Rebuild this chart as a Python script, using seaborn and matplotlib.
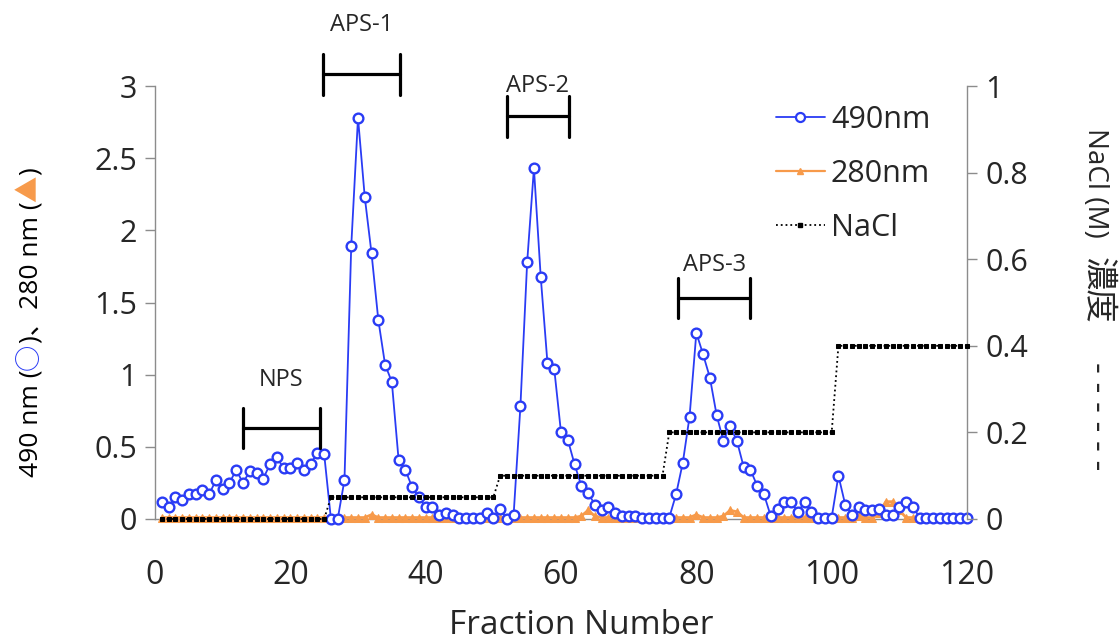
import numpy as np
import pandas as pd
import matplotlib
matplotlib.use("Agg")
import matplotlib.pyplot as plt
import seaborn as sns
from matplotlib.lines import Line2D
from matplotlib.ticker import FuncFormatter

# ---------------- data ----------------
fractions = list(range(1, 121))

abs490 = [0.12, 0.085, 0.15, 0.13, 0.17, 0.17, 0.20, 0.17, 0.27, 0.21,
          0.25, 0.34, 0.25, 0.33, 0.32, 0.28, 0.38, 0.43, 0.35, 0.35,
          0.39, 0.34, 0.38, 0.46, 0.45, 0.0, 0.0, 0.27, 1.89, 2.78,
          2.23, 1.84, 1.38, 1.07, 0.95, 0.41, 0.34, 0.22, 0.15, 0.08,
          0.08, 0.03, 0.04, 0.03, 0.01, 0.01, 0.01, 0.01, 0.04, 0.01,
          0.07, 0.0, 0.03, 0.78, 1.78, 2.43, 1.68, 1.08, 1.04, 0.60,
          0.55, 0.38, 0.23, 0.18, 0.10, 0.06, 0.08, 0.04, 0.02, 0.02,
          0.02, 0.01, 0.01, 0.01, 0.01, 0.01, 0.17, 0.39, 0.71, 1.29,
          1.14, 0.98, 0.72, 0.54, 0.645, 0.54, 0.36, 0.34, 0.23, 0.17,
          0.02, 0.07, 0.115, 0.115, 0.05, 0.115, 0.05, 0.01, 0.01, 0.01,
          0.30, 0.10, 0.03, 0.08, 0.06, 0.06, 0.07, 0.03, 0.03, 0.08,
          0.115, 0.085, 0.01, 0.01, 0.01, 0.01, 0.01, 0.01, 0.01, 0.01]

abs280 = [0.01, 0.01, 0.01, 0.01, 0.01, 0.01, 0.01, 0.01, 0.01, 0.01,
          0.01, 0.01, 0.01, 0.01, 0.01, 0.01, 0.01, 0.01, 0.01, 0.01,
          0.01, 0.01, 0.01, 0.01, 0.01, 0.01, 0.01, 0.01, 0.01, 0.01,
          0.01, 0.03, 0.01, 0.01, 0.01, 0.01, 0.01, 0.01, 0.01, 0.01,
          0.01, 0.01, 0.01, 0.01, 0.01, 0.01, 0.01, 0.01, 0.01, 0.01,
          0.01, 0.01, 0.01, 0.01, 0.01, 0.01, 0.01, 0.01, 0.01, 0.01,
          0.01, 0.01, 0.02, 0.06, 0.02, 0.01, 0.01, 0.01, 0.01, 0.01,
          0.01, 0.01, 0.01, 0.01, 0.01, 0.01, 0.01, 0.01, 0.01, 0.03,
          0.01, 0.01, 0.01, 0.02, 0.06, 0.05, 0.01, 0.01, 0.01, 0.01,
          0.01, 0.01, 0.01, 0.01, 0.01, 0.01, 0.01, 0.01, 0.01, 0.01,
          0.01, 0.01, 0.01, 0.02, 0.01, 0.01, 0.04, 0.12, 0.12, 0.06,
          0.01, 0.01, 0.01, 0.01, 0.01, 0.01, 0.01, 0.01, 0.01, 0.01]

nacl = [0.0] * 25 + [0.05] * 25 + [0.1] * 25 + [0.2] * 25 + [0.4] * 20

# bracket annotations: label, start fraction, end fraction, level, label level
bracket_labels = ["NPS", "APS-1", "APS-2", "APS-3"]
bracket_start = [13.0, 24.8, 52.0, 77.3]
bracket_end = [24.4, 36.2, 61.2, 88.0]
bracket_level = [0.63, 3.08, 2.79, 1.53]
bracket_text_level = [0.96, 3.42, 3.00, 1.76]

left_ticks = [0, 0.5, 1, 1.5, 2, 2.5, 3]
right_ticks = [0, 0.2, 0.4, 0.6, 0.8, 1.0]
x_ticks = [0, 20, 40, 60, 80, 100, 120]

df = pd.DataFrame({"fraction": fractions, "a490": abs490,
                   "a280": abs280, "nacl": nacl})

# ---------------- style ----------------
sns.set_style("white")
plt.rcParams["font.family"] = ["Open Sans", "Noto Sans CJK JP", "DejaVu Sans"]

BLUE = "#2a3cf5"
ORANGE = "#f79a4a"
GRAY = "#8c8c8c"

fig = plt.figure(figsize=(11.2, 6.44), dpi=100)
ax = fig.add_axes([155 / 1120, 1 - 519 / 644, (967 - 155) / 1120, (519 - 86) / 644])
ax2 = ax.twinx()

sns.lineplot(data=df, x="fraction", y="a280", ax=ax, color=ORANGE,
             linewidth=2.0, marker="^", markersize=5.5,
             markeredgecolor=ORANGE, markerfacecolor=ORANGE,
             clip_on=False, zorder=3, label="280nm", legend=False)
sns.lineplot(data=df, x="fraction", y="a490", ax=ax, color=BLUE,
             linewidth=1.3, marker="o", markersize=7,
             markeredgecolor=BLUE, markerfacecolor="white",
             markeredgewidth=1.7, clip_on=False, zorder=4,
             label="490nm", legend=False)
sns.lineplot(data=df, x="fraction", y="nacl", ax=ax2, color="black",
             linewidth=1.3, linestyle=":", marker="s", markersize=2.2,
             markeredgecolor="black", markerfacecolor="black",
             clip_on=False, zorder=3, label="NaCl", legend=False)

ax.set_xlim(0, 120)
ax.set_ylim(0, 3)
ax2.set_ylim(0, 1)
ax.set_xticks(x_ticks)
ax.set_yticks(left_ticks)
ax2.set_yticks(right_ticks)
fmt = FuncFormatter(lambda v, p: f"{v:g}")
ax.yaxis.set_major_formatter(fmt)
ax2.yaxis.set_major_formatter(fmt)
ax.set_xlabel("")
ax.set_ylabel("")
ax2.set_ylabel("")

for a in (ax, ax2):
    a.spines["top"].set_visible(False)
    for s in ("left", "right", "bottom"):
        a.spines[s].set_color(GRAY)
        a.spines[s].set_linewidth(1.0)
    a.tick_params(axis="both", which="major", direction="out", length=7,
                  width=1, color=GRAY, labelsize=22, pad=6)
ax.tick_params(axis="x", labelsize=23, pad=22)
ax.spines["right"].set_visible(False)
ax2.spines["left"].set_visible(False)
ax2.spines["bottom"].set_visible(False)

fig.text(581 / 1120, 1 - 625 / 644, "Fraction Number", ha="center",
         va="center", fontsize=24)

# brackets
for lab, x0, x1, lev, tl in zip(bracket_labels, bracket_start, bracket_end,
                                bracket_level, bracket_text_level):
    h = 0.14
    ax.plot([x0, x1], [lev, lev], color="black", lw=2.3, clip_on=False, zorder=5)
    ax.plot([x0, x0], [lev - h, lev + h], color="black", lw=2.3, clip_on=False, zorder=5)
    ax.plot([x1, x1], [lev - h, lev + h], color="black", lw=2.3, clip_on=False, zorder=5)
    ax.text((x0 + x1) / 2, tl, lab, ha="center", va="center", fontsize=17,
            clip_on=False)

# legend
handles = [
    Line2D([], [], color=BLUE, lw=1.3, marker="o", markersize=6.5,
           markerfacecolor="white", markeredgecolor=BLUE, markeredgewidth=1.6),
    Line2D([], [], color=ORANGE, lw=1.6, marker="^", markersize=5,
           markerfacecolor=ORANGE, markeredgecolor=ORANGE),
    Line2D([], [], color="black", lw=1.3, linestyle=":", marker="s",
           markersize=2.5, markerfacecolor="black"),
]
leg = ax2.legend(handles, ["490nm", "280nm", "NaCl"], loc="upper left",
                 bbox_to_anchor=(776 / 1120, 1 - 105 / 644),
                 bbox_transform=fig.transFigure, frameon=False, fontsize=22,
                 handlelength=1.6, handletextpad=0.2, labelspacing=0.78,
                 borderpad=0, borderaxespad=0)

# right axis label (rotated, reads top to bottom), in pieces
right_pieces = [("NaCl (M)", 128, 20), ("濃度", 257, 24), ("- - - - - -", 362, 24)]
for s, ystart, fs in right_pieces:
    fig.text(1088 / 1120, 1 - ystart / 644, s, rotation=270,
             ha="left", va="baseline", rotation_mode="anchor", fontsize=fs)

# left axis label, multi-coloured pieces stacked upward
pieces = [("490 nm (", "black"), ("○", BLUE), (")、280 nm (", "black"),
          ("▲", ORANGE), (")", "black")]
fig.canvas.draw()
renderer = fig.canvas.get_renderer()
ypix = 477.0
xpix = 37.0
for s, c in pieces:
    t = fig.text(xpix / 1120, 1 - ypix / 644, s, rotation=90, color=c,
                 ha="left", va="baseline", rotation_mode="anchor", fontsize=19)
    bb = t.get_window_extent(renderer=renderer)
    ypix -= bb.height

fig.savefig("out.png", dpi=100)
